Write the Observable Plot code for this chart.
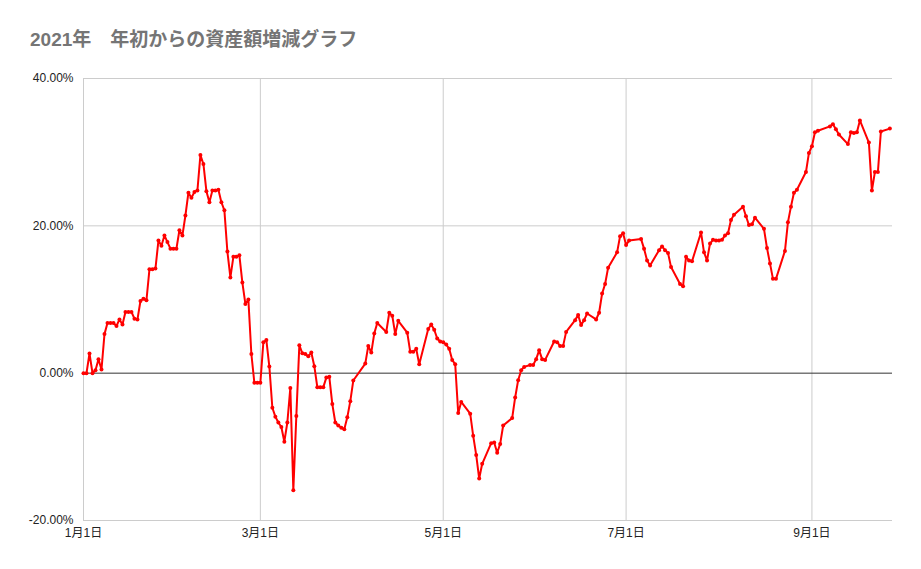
<!DOCTYPE html>
<html>
<head>
<meta charset="utf-8">
<script src="https://cdn.jsdelivr.net/npm/d3@7"></script>
<script src="https://cdn.jsdelivr.net/npm/@observablehq/plot@0.6"></script>
<style>
  body { margin: 0; background: #fff; font-family: Arial, "Liberation Sans", "Noto Sans CJK JP", sans-serif; }
  #title { height: 60px; box-sizing: border-box; padding: 29px 0 0 30px; font-size: 19px; font-weight: bold; color: #757575; font-family: Arial, "Liberation Sans", "Noto Sans CJK JP", sans-serif; line-height: 22px; }
</style>
</head>
<body>
<div id="title">2021年　年初からの資産額増減グラフ</div>
<div id="chart"></div>
<script>
const title = "2021年　年初からの資産額増減グラフ";

const dates = [
  "2021-01-01","2021-01-02","2021-01-03","2021-01-04","2021-01-05","2021-01-06","2021-01-07","2021-01-08","2021-01-09","2021-01-10",
  "2021-01-11","2021-01-12","2021-01-13","2021-01-14","2021-01-15","2021-01-16","2021-01-17","2021-01-18","2021-01-19","2021-01-20",
  "2021-01-21","2021-01-22","2021-01-23","2021-01-24","2021-01-25","2021-01-26","2021-01-27","2021-01-28","2021-01-29","2021-01-30",
  "2021-01-31","2021-02-01","2021-02-02","2021-02-03","2021-02-04","2021-02-05","2021-02-06","2021-02-07","2021-02-08","2021-02-09",
  "2021-02-10","2021-02-11","2021-02-12","2021-02-13","2021-02-14","2021-02-15","2021-02-16","2021-02-17","2021-02-18","2021-02-19",
  "2021-02-20","2021-02-21","2021-02-22","2021-02-23","2021-02-24","2021-02-25","2021-02-26","2021-02-27","2021-02-28","2021-03-01",
  "2021-03-02","2021-03-03","2021-03-04","2021-03-05","2021-03-06","2021-03-07","2021-03-08","2021-03-09","2021-03-10","2021-03-11",
  "2021-03-12","2021-03-13","2021-03-14","2021-03-15","2021-03-16","2021-03-17","2021-03-18","2021-03-19","2021-03-20","2021-03-21",
  "2021-03-22","2021-03-23","2021-03-24","2021-03-25","2021-03-26","2021-03-27","2021-03-28","2021-03-29","2021-03-30","2021-03-31",
  "2021-04-01","2021-04-05","2021-04-06","2021-04-07","2021-04-08","2021-04-09","2021-04-12","2021-04-13","2021-04-14","2021-04-15",
  "2021-04-16","2021-04-19","2021-04-20","2021-04-21","2021-04-22","2021-04-23","2021-04-26","2021-04-27","2021-04-28","2021-04-29",
  "2021-04-30","2021-05-01","2021-05-02","2021-05-03","2021-05-04","2021-05-05","2021-05-06","2021-05-07","2021-05-10","2021-05-11",
  "2021-05-12","2021-05-13","2021-05-14","2021-05-17","2021-05-18","2021-05-19","2021-05-20","2021-05-21","2021-05-24","2021-05-25",
  "2021-05-26","2021-05-27","2021-05-28","2021-05-30","2021-05-31","2021-06-01","2021-06-02","2021-06-03","2021-06-04","2021-06-07",
  "2021-06-08","2021-06-09","2021-06-10","2021-06-11","2021-06-14","2021-06-15","2021-06-16","2021-06-17","2021-06-18","2021-06-21",
  "2021-06-22","2021-06-23","2021-06-24","2021-06-25","2021-06-28","2021-06-29","2021-06-30","2021-07-01","2021-07-02","2021-07-06",
  "2021-07-07","2021-07-08","2021-07-09","2021-07-12","2021-07-13","2021-07-14","2021-07-15","2021-07-16","2021-07-19","2021-07-20",
  "2021-07-21","2021-07-22","2021-07-23","2021-07-26","2021-07-27","2021-07-28","2021-07-29","2021-07-30","2021-07-31","2021-08-01",
  "2021-08-02","2021-08-03","2021-08-04","2021-08-05","2021-08-06","2021-08-09","2021-08-10","2021-08-11","2021-08-12","2021-08-13",
  "2021-08-16","2021-08-17","2021-08-18","2021-08-19","2021-08-20","2021-08-23","2021-08-24","2021-08-25","2021-08-26","2021-08-27",
  "2021-08-30","2021-08-31","2021-09-01","2021-09-02","2021-09-03","2021-09-07","2021-09-08","2021-09-09","2021-09-10","2021-09-13",
  "2021-09-14","2021-09-15","2021-09-16","2021-09-17","2021-09-20","2021-09-21","2021-09-22","2021-09-23","2021-09-24","2021-09-27"
];

const values = [
  0.0, 0.0, 2.67, 0.0, 0.4, 1.9, 0.5, 5.3, 6.8, 6.8,
  6.8, 6.4, 7.3, 6.6, 8.3, 8.3, 8.3, 7.4, 7.3, 9.8,
  10.1, 9.9, 14.1, 14.1, 14.2, 18.0, 17.3, 18.7, 17.8, 16.9,
  16.9, 16.9, 19.4, 18.7, 21.4, 24.5, 23.8, 24.6, 24.8, 29.6,
  28.4, 24.7, 23.2, 24.8, 24.8, 24.9, 23.2, 22.1, 16.5, 13.0,
  15.8, 15.8, 16.0, 12.3, 9.4, 10.0, 2.6, -1.3, -1.3, -1.3,
  4.2, 4.5, 0.9, -4.7, -5.9, -6.7, -7.3, -9.3, -6.7, -2.0,
  -15.9, -5.8, 3.8, 2.7, 2.6, 2.3, 2.8, 0.95, -1.9, -1.9,
  -1.9, -0.6, -0.5, -4.2, -6.7, -7.1, -7.4, -7.6, -6.0, -3.8,
  -1.0, 1.3, 3.7, 2.8, 5.4, 6.8, 5.6, 8.2, 7.8, 5.3,
  7.1, 5.5, 2.9, 2.9, 3.3, 1.2, 6.0, 6.6, 5.9, 4.7,
  4.3, 4.2, 3.9, 3.3, 1.8, 1.2, -5.4, -3.9, -5.5, -8.5,
  -11.1, -14.3, -12.3, -9.5, -9.4, -10.8, -9.6, -7.1, -6.1, -3.3,
  -0.95, 0.4, 0.85, 1.1, 1.1, 1.9, 3.1, 1.9, 1.8, 4.3,
  4.2, 3.7, 3.7, 5.6, 7.2, 7.9, 6.55, 7.2, 8.1, 7.3,
  8.2, 10.8, 12.1, 14.3, 16.4, 18.6, 19.0, 17.4, 18.0, 18.2,
  16.9, 15.3, 14.6, 16.7, 17.2, 16.7, 16.3, 14.4, 12.1, 11.8,
  15.8, 15.3, 15.2, 19.1, 16.4, 15.3, 17.6, 18.1, 18.0, 18.0,
  18.1, 18.7, 19.0, 20.8, 21.5, 22.6, 21.3, 20.1, 20.2, 21.1,
  19.6, 17.0, 14.9, 12.8, 12.8, 16.6, 20.5, 22.6, 24.5, 24.9,
  27.3, 29.9, 30.8, 32.7, 32.9, 33.5, 33.8, 33.1, 32.4, 31.1,
  32.7, 32.6, 32.7, 34.3, 31.3, 24.8, 27.3, 27.3, 32.8, 33.2
];

const yTicks = [-20, 0, 20, 40];
const xTickDates = ["2021-01-01", "2021-03-01", "2021-05-01", "2021-07-01", "2021-09-01"];
const xDomain = ["2021-01-01", "2021-09-27T21:00"];

const data = dates.map((d, i) => ({date: new Date(d + "T00:00Z"), value: values[i]}));
const xTicks = xTickDates.map(d => new Date(d + "T00:00Z"));

const chart = Plot.plot({
  width: 921,
  height: 509,
  marginTop: 18,
  marginBottom: 49,
  marginLeft: 83,
  marginRight: 29,
  style: {fontFamily: 'Arial, "Liberation Sans", "Noto Sans CJK JP", sans-serif', fontSize: "12px", color: "#222", background: "#fff"},
  x: {
    type: "utc",
    domain: xDomain.map(d => new Date(d + (d.includes("T") ? "Z" : "T00:00Z"))),
    ticks: xTicks,
    tickFormat: d => `${d.getUTCMonth() + 1}月${d.getUTCDate()}日`,
    tickSize: 0,
    tickPadding: 8,
    label: null
  },
  y: {
    domain: [-20, 40],
    ticks: yTicks,
    tickFormat: d => d.toFixed(2) + "%",
    tickSize: 0,
    tickPadding: 10,
    label: null
  },
  marks: [
    Plot.ruleX(xTicks, {stroke: "#cccccc", strokeWidth: 1}),
    Plot.ruleY(yTicks.filter(v => v !== 0), {stroke: "#cccccc", strokeWidth: 1}),
    Plot.ruleY([0], {stroke: "#333333", strokeWidth: 1}),
    Plot.line(data, {x: "date", y: "value", stroke: "#ff0000", strokeWidth: 2, curve: "linear"}),
    Plot.dot(data, {x: "date", y: "value", r: 2, fill: "#ff0000", stroke: "none"})
  ]
});
document.getElementById("chart").appendChild(chart);
</script>
</body>
</html>
